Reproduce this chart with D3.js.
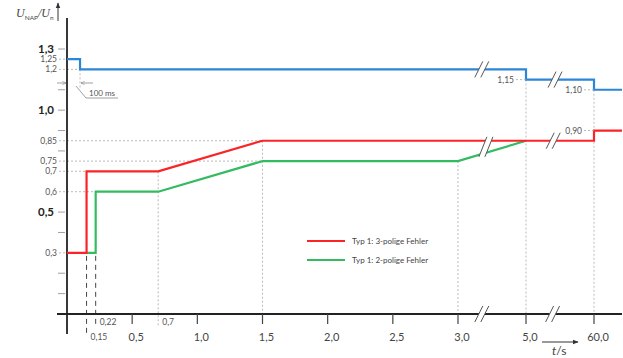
<!DOCTYPE html>
<html lang="de">
<head>
<meta charset="utf-8">
<script src="https://cdn.jsdelivr.net/npm/d3@7"></script>
<style>
  html, body { margin: 0; padding: 0; background: #fff; }
  text { font-family: Lato, "Open Sans", sans-serif; }
</style>
</head>
<body>
<div id="chart"></div>
<script>
"use strict";

// Kennlinien (t in s, U/Un)
var blauT = [0, 0.1, 0.1, 5, 5, 60, 60, 70];
var blauU = [1.25, 1.25, 1.2, 1.2, 1.15, 1.15, 1.10, 1.10];
var rotT = [0, 0.15, 0.15, 0.7, 1.5, 60, 60, 70];
var rotU = [0.3, 0.3, 0.7, 0.7, 0.85, 0.85, 0.90, 0.90];
var gruenT = [0.15, 0.22, 0.22, 0.7, 1.5, 3, 5];
var gruenU = [0.3, 0.3, 0.6, 0.6, 0.75, 0.75, 0.85];

// Achsen
var xTicks = [0.5, 1.0, 1.5, 2.0, 2.5, 3.0, 5.0, 60.0];
var xTickText = ["0,5", "1,0", "1,5", "2,0", "2,5", "3,0", "5,0", "60,0"];
var yTicks = [0.1, 0.2, 0.4, 0.8, 0.9, 1.0, 1.1, 1.3, 0.5];
var yLabelVals = [1.3, 1.25, 1.2, 1.0, 0.85, 0.75, 0.7, 0.6, 0.5, 0.3];
var yLabelText = ["1,3", "1,25", "1,2", "1,0", "0,85", "0,75", "0,7", "0,6", "0,5", "0,3"];
var yLabelBold = [true, false, false, true, false, false, false, false, true, false];

// Hilfslinien: horizontal bis t, vertikal ab U
var hHilfU = [1.25, 1.2, 0.85, 0.75, 0.7, 0.6, 0.3];
var hHilfT = [0, 0.1, 1.5, 1.5, 0.15, 0.22, 0];
var vHilfT = [0.1, 0.7, 1.5, 3.0, 5.0, 60.0];
var vHilfU = [1.2, 0.7, 0.85, 0.75, 1.15, 1.10];

// Beschriftungen rechts
var rechtsT = [5.0, 60.0, 60.0];
var rechtsU = [1.15, 1.10, 0.90];
var rechtsText = ["1,15", "1,10", "0,90"];

// Achsenbrueche
var bruchT = [3.7, 3.85, 27, 28.5, 3.7, 26.5];
var bruchU = [1.2, 0.82, 0.85, 1.15, 0, 0];

var legende = ["Typ 1: 3-polige Fehler", "Typ 1: 2-polige Fehler"];

var corBlau = "#2b86d6", corRot = "#fb2326", corGruen = "#33bb60";

var W = 623, H = 358;
var svg = d3.select("#chart").append("svg").attr("width", W).attr("height", H);

var defs = svg.append("defs");
defs.append("marker").attr("id", "pfeil").attr("viewBox", "0 0 10 10")
  .attr("refX", 9).attr("refY", 5).attr("markerWidth", 6).attr("markerHeight", 6)
  .attr("orient", "auto-start-reverse")
  .append("path").attr("d", "M0,1 L10,5 L0,9 z").attr("fill", "#333");
defs.append("marker").attr("id", "pfeilKlein").attr("viewBox", "0 0 10 10")
  .attr("refX", 9).attr("refY", 5).attr("markerWidth", 5).attr("markerHeight", 5)
  .attr("orient", "auto-start-reverse")
  .append("path").attr("d", "M0,1 L10,5 L0,9").attr("fill", "none").attr("stroke", "#888").attr("stroke-width", 1.5);

var x = d3.scaleLinear().domain([0, 3, 5, 60, 70]).range([67, 458, 526, 594, 622]);
var y = d3.scaleLinear().domain([0, 1.3]).range([314, 49]);

var linie = d3.line().x(function(d) { return x(d[0]); }).y(function(d) { return y(d[1]); });
function paare(ts, us) { return ts.map(function(t, i) { return [t, us[i]]; }); }

// Hilfslinien
svg.selectAll(".hh").data(hHilfU).enter().append("line")
  .attr("x1", 59).attr("x2", function(d, i) { return x(hHilfT[i]); })
  .attr("y1", function(d) { return y(d); }).attr("y2", function(d) { return y(d); })
  .attr("stroke", "#aaa").attr("stroke-width", 0.8).attr("stroke-dasharray", "2,2");
svg.selectAll(".vh").data(vHilfT).enter().append("line")
  .attr("x1", function(d) { return x(d); }).attr("x2", function(d) { return x(d); })
  .attr("y1", function(d, i) { return y(vHilfU[i]); })
  .attr("y2", function(d) { return d === 0.1 ? 88 : (d === 0.7 ? 326 : y(0)); })
  .attr("stroke", "#aaa").attr("stroke-width", 0.8).attr("stroke-dasharray", "2,2");

// gestrichelte Zeitmarken
[[0.15, 336], [0.22, 324]].forEach(function(p) {
  svg.append("line").attr("x1", x(p[0])).attr("x2", x(p[0]))
    .attr("y1", y(0.3) + 3).attr("y2", p[1])
    .attr("stroke", "#444").attr("stroke-width", 1).attr("stroke-dasharray", "5,4");
});
svg.append("text").attr("x", x(0.22) + 4).attr("y", 325).attr("font-size", 8.5).attr("fill", "#555").text("0,22");
svg.append("text").attr("x", x(0.15) + 4).attr("y", 340).attr("font-size", 8.5).attr("fill", "#555").text("0,15");
svg.append("text").attr("x", x(0.7) + 4).attr("y", 325).attr("font-size", 8.5).attr("fill", "#555").text("0,7");

// Achsen
svg.append("line").attr("x1", 57).attr("x2", 622).attr("y1", y(0)).attr("y2", y(0))
  .attr("stroke", "#222").attr("stroke-width", 1.8);
svg.append("line").attr("x1", x(0)).attr("x2", x(0)).attr("y1", 18).attr("y2", 334)
  .attr("stroke", "#222").attr("stroke-width", 1.8);

svg.selectAll(".xt").data(xTicks).enter().append("line")
  .attr("x1", function(d) { return x(d); }).attr("x2", function(d) { return x(d); })
  .attr("y1", y(0)).attr("y2", y(0) + 10).attr("stroke", "#444").attr("stroke-width", 1.2);
svg.selectAll(".xl").data(xTicks).enter().append("text")
  .attr("x", function(d) { return x(d) + 4; }).attr("y", 341)
  .attr("text-anchor", "middle").attr("font-size", 11).attr("fill", "#444")
  .text(function(d, i) { return xTickText[i]; });

svg.selectAll(".yt").data(yTicks).enter().append("line")
  .attr("x1", 58).attr("x2", 65)
  .attr("y1", function(d) { return y(d); }).attr("y2", function(d) { return y(d); })
  .attr("stroke", "#888").attr("stroke-width", 0.8);
svg.selectAll(".yl").data(yLabelVals).enter().append("text")
  .attr("x", function(d, i) { return yLabelBold[i] ? 54 : 57; })
  .attr("y", function(d) { return y(d); }).attr("dy", "0.35em")
  .attr("text-anchor", "end")
  .attr("font-size", function(d, i) { return yLabelBold[i] ? 11.5 : 8.5; })
  .attr("font-weight", function(d, i) { return yLabelBold[i] ? "bold" : "normal"; })
  .attr("fill", function(d, i) { return yLabelBold[i] ? "#222" : "#555"; })
  .text(function(d, i) { return yLabelText[i]; });

// Achsentitel
var yt = svg.append("text").attr("x", 16).attr("y", 17).attr("font-size", 12)
  .style("font-family", "'Liberation Serif', serif").attr("fill", "#444");
yt.append("tspan").attr("font-style", "italic").text("U");
yt.append("tspan").attr("font-size", 6.5).attr("dy", 3).style("font-family", "Lato, sans-serif").text("NAP");
yt.append("tspan").attr("dy", -3).attr("font-style", "italic").text("/U");
yt.append("tspan").attr("font-size", 6.5).attr("dy", 3).style("font-family", "Lato, sans-serif").text("n");
svg.append("line").attr("x1", 58).attr("x2", 58).attr("y1", 21).attr("y2", 3)
  .attr("stroke", "#333").attr("stroke-width", 1).attr("marker-end", "url(#pfeil)");

var xt = svg.append("text").attr("x", 552).attr("y", 355).attr("font-size", 12).attr("fill", "#444");
xt.append("tspan").attr("font-style", "italic").text("t");
xt.append("tspan").text("/s");
svg.append("line").attr("x1", 542).attr("x2", 578).attr("y1", 342).attr("y2", 342)
  .attr("stroke", "#333").attr("stroke-width", 1).attr("marker-end", "url(#pfeil)");

// 100 ms Bemassung
svg.append("line").attr("x1", 57).attr("x2", x(0) - 1).attr("y1", 83).attr("y2", 83)
  .attr("stroke", "#888").attr("stroke-width", 0.8).attr("marker-end", "url(#pfeilKlein)");
svg.append("line").attr("x1", 93).attr("x2", x(0.1) + 1).attr("y1", 83).attr("y2", 83)
  .attr("stroke", "#888").attr("stroke-width", 0.8).attr("marker-end", "url(#pfeilKlein)");
svg.append("polyline").attr("points", "76,86 86,98 118,98")
  .attr("fill", "none").attr("stroke", "#888").attr("stroke-width", 0.8);
svg.append("text").attr("x", 89).attr("y", 96).attr("font-size", 8).attr("fill", "#555").text("100 ms");

// Kennlinien
svg.append("path").datum(paare(gruenT, gruenU)).attr("d", linie)
  .attr("fill", "none").attr("stroke", corGruen).attr("stroke-width", 2.2);
svg.append("path").datum(paare(rotT, rotU)).attr("d", linie)
  .attr("fill", "none").attr("stroke", corRot).attr("stroke-width", 2.2);
svg.append("path").datum(paare(blauT, blauU)).attr("d", linie)
  .attr("fill", "none").attr("stroke", corBlau).attr("stroke-width", 2.2);

// Beschriftungen rechts
svg.selectAll(".rl").data(rechtsT).enter().append("line")
  .attr("x1", function(d) { return x(d) - 10; }).attr("x2", function(d) { return x(d); })
  .attr("y1", function(d, i) { return y(rechtsU[i]); }).attr("y2", function(d, i) { return y(rechtsU[i]); })
  .attr("stroke", "#aaa").attr("stroke-width", 0.8).attr("stroke-dasharray", "2,2");
svg.selectAll(".rt").data(rechtsT).enter().append("text")
  .attr("x", function(d) { return x(d) - 12; })
  .attr("y", function(d, i) { return y(rechtsU[i]); }).attr("dy", "0.35em")
  .attr("text-anchor", "end").attr("font-size", 8.5).attr("fill", "#555")
  .text(function(d, i) { return rechtsText[i]; });

// Achsenbrueche //
var bruch = svg.selectAll(".br").data(bruchT).enter().append("g")
  .attr("transform", function(d, i) { return "translate(" + x(d) + "," + y(bruchU[i]) + ")"; });
bruch.append("path").attr("d", function(d, i) { return i === 1 ? "M-8,10 L0,-10 L6,-10 L-2,10 z" : "M-7,8 L1,-8 L7,-8 L-1,8 z"; })
  .attr("fill", "#fff");
bruch.append("path").attr("d", function(d, i) {
    return i === 1 ? "M-8,10 L0,-10 M-2,10 L6,-10" : "M-7,8 L1,-8 M-1,8 L7,-8";
  })
  .attr("stroke", "#555").attr("stroke-width", 1).attr("fill", "none");

// Legende
var leg = svg.selectAll(".lg").data(legende).enter().append("g")
  .attr("transform", function(d, i) { return "translate(307," + (241 + i * 19) + ")"; });
leg.append("line").attr("x1", 0).attr("x2", 38)
  .attr("stroke", function(d, i) { return i === 0 ? corRot : corGruen; }).attr("stroke-width", 2.2);
leg.append("text").attr("x", 45).attr("dy", "0.35em").attr("font-size", 8).attr("fill", "#444")
  .text(function(d) { return d; });
</script>
</body>
</html>
